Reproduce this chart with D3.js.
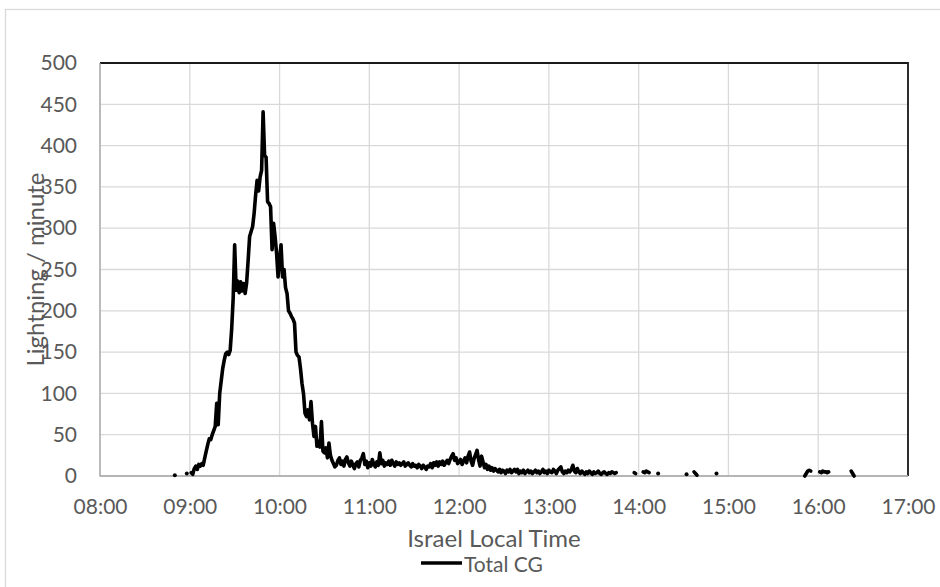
<!DOCTYPE html>
<html>
  <head>
    <meta charset="utf-8">
    <script type="text/javascript" src="https://cdn.jsdelivr.net/npm/d3@7"></script>
    <style>
      body { margin: 0; background: #fff; }
      text { font-family: Lato, "Open Sans", sans-serif; }
    </style>
  </head>
  <body>
    <script type="text/javascript">

// lightning counts per minute, split where the record has gaps
var segmentStart = ["08:50", "08:58", "09:01", "13:57", "14:03", "14:13",
                    "14:32", "14:37", "14:52", "15:51", "16:01", "16:22"];

var mainCounts = [
  4, 2, 9, 12, 8, 14, 12, 15, 13, 22, 30, 38, 45, 44, 50, 55, 60, 88, 62, 100,
  115, 130, 140, 148, 150, 147, 152, 178, 215, 280, 225, 236, 222, 235, 224, 233, 221, 234, 261, 290,
  296, 302, 318, 340, 358, 345, 362, 370, 441, 388, 386, 332, 330, 326, 274, 306, 290, 270, 241, 262,
  280, 241, 250, 228, 221, 200, 197, 193, 190, 185, 150, 146, 144, 130, 112, 100, 76, 72, 80, 68,
  90, 64, 48, 60, 36, 42, 35, 66, 30, 28, 34, 22, 40, 25, 19, 15, 11, 13, 19, 22,
  14, 18, 12, 20, 23, 16, 12, 18, 13, 9, 15, 17, 11, 19, 22, 27, 14, 18, 10, 16,
  12, 20, 14, 11, 17, 13, 28, 15, 19, 12, 16, 14, 18, 13, 19, 15, 12, 17, 14, 16,
  13, 15, 17, 12, 14, 16, 13, 11, 15, 12, 13, 10, 14, 12, 9, 13, 11, 8, 12, 11,
  15, 10, 16, 13, 17, 12, 17, 14, 18, 13, 16, 19, 15, 20, 24, 27, 19, 22, 15, 17,
  20, 14, 18, 22, 16, 24, 29, 18, 13, 21, 26, 31, 20, 12, 24, 17, 10, 14, 8, 12,
  7, 10, 6, 9, 7, 5, 8, 4, 7, 6, 3, 7, 5, 8, 4, 6, 8, 5, 8, 3,
  6, 4, 7, 3, 5, 7, 4, 6, 3, 5, 7, 4, 6, 3, 5, 8, 4, 6, 3, 7,
  5, 4, 8, 6, 3, 7, 9, 11, 5, 3, 6, 4, 7, 5, 8, 13, 6, 4, 9, 5,
  3, 6, 4, 2, 5, 3, 6, 4, 2, 5, 3, 4, 6, 3, 2, 4, 5, 3, 2, 4,
  3, 5, 4, 3, 4
];

var segmentCounts = [
  [1],
  [3],
  mainCounts,
  [4, 3],
  [5, 4, 6, 5, 4],
  [3],
  [2],
  [5, 3, 1],
  [3],
  [0, 3, 6, 7, 6],
  [5, 4, 6, 5, 5, 4, 5],
  [6, 3, 0]
];

var yTicks = [0, 50, 100, 150, 200, 250, 300, 350, 400, 450, 500];
var xTickLabels = ["08:00", "09:00", "10:00", "11:00", "12:00", "13:00",
                   "14:00", "15:00", "16:00", "17:00"];

var w = 940;
var h = 587;
var plotLeft = 100, plotRight = 908, plotTop = 63, plotBottom = 476;
var grey = "#595959";

var parse = d3.timeParse("%H:%M");

var x = d3.scaleTime()
    .domain([parse("08:00"), parse("17:00")])
    .range([plotLeft, plotRight]);

var y = d3.scaleLinear()
    .domain([0, 500])
    .range([plotBottom, plotTop]);

var svg =
  d3.select("body")
    .append("svg")
    .attr("width", w)
    .attr("height", h);

svg.append("rect")
    .attr("x", 5.5).attr("y", 9.5)
    .attr("width", w).attr("height", h)
    .style("fill", "#fff")
    .style("stroke", "#d9d9d9")
    .style("stroke-width", 1.3);

// gridlines
svg.append("g")
  .selectAll("line")
  .data(yTicks)
  .enter()
  .append("line")
    .attr("x1", plotLeft).attr("x2", plotRight)
    .attr("y1", function(d) { return y(d); })
    .attr("y2", function(d) { return y(d); })
    .style("stroke", "#d9d9d9")
    .style("stroke-width", 1.3);

svg.append("g")
  .selectAll("line")
  .data(xTickLabels)
  .enter()
  .append("line")
    .attr("x1", function(d) { return x(parse(d)); })
    .attr("x2", function(d) { return x(parse(d)); })
    .attr("y1", plotTop).attr("y2", plotBottom)
    .style("stroke", "#d9d9d9")
    .style("stroke-width", 1.3);

// plot border: dark top and right, grey axes left and bottom
svg.append("path")
    .attr("d", "M" + plotLeft + "," + plotTop + "H" + plotRight + "V" + plotBottom)
    .style("fill", "none")
    .style("stroke", "#1a1a1a")
    .style("stroke-width", 1.8);

svg.append("path")
    .attr("d", "M" + plotLeft + "," + plotTop + "V" + plotBottom + "H" + plotRight)
    .style("fill", "none")
    .style("stroke", "#a6a6a6")
    .style("stroke-width", 1.3);

// axes
var yAxis = svg.append("g")
    .attr("transform", "translate(" + plotLeft + ",0)")
    .call(d3.axisLeft(y).tickValues(yTicks).tickSize(0).tickPadding(23));

var xAxis = svg.append("g")
    .attr("transform", "translate(0," + plotBottom + ")")
    .call(d3.axisBottom(x)
      .tickValues(xTickLabels.map(parse))
      .tickFormat(d3.timeFormat("%H:%M"))
      .tickSize(0).tickPadding(23));

[yAxis, xAxis].forEach(function(g) {
  g.select(".domain").remove();
  g.selectAll("text")
    .style("font-family", "Lato, sans-serif")
    .style("font-size", "21px")
    .style("fill", grey);
});

// series
var segments = segmentStart.map(function(s, i) {
  var t0 = parse(s);
  return segmentCounts[i].map(function(v, j) {
    return { t: d3.timeMinute.offset(t0, j), v: v };
  });
});

var line = d3.line()
    .x(function(d) { return x(d.t); })
    .y(function(d) { return y(d.v); });

svg.append("g")
  .selectAll("path")
  .data(segments.filter(function(s) { return s.length > 1; }))
  .enter()
  .append("path")
    .attr("d", line)
    .style("fill", "none")
    .style("stroke", "#000")
    .style("stroke-width", 3.6)
    .style("stroke-linejoin", "round")
    .style("stroke-linecap", "round");

svg.append("g")
  .selectAll("circle")
  .data(segments.filter(function(s) { return s.length == 1; }))
  .enter()
  .append("circle")
    .attr("cx", function(s) { return x(s[0].t); })
    .attr("cy", function(s) { return y(s[0].v); })
    .attr("r", 2)
    .style("fill", "#000");

// titles
svg.append("text")
    .attr("transform", "translate(34," + ((plotTop + plotBottom) / 2) + ") rotate(-90)")
    .attr("text-anchor", "middle")
    .attr("dominant-baseline", "central")
    .style("font-size", "24px")
    .style("fill", grey)
    .text("Lightning / minute");

svg.append("text")
    .attr("x", 494).attr("y", 537)
    .attr("text-anchor", "middle")
    .attr("dominant-baseline", "central")
    .style("font-size", "24px")
    .style("fill", grey)
    .text("Israel Local Time");

// legend
svg.append("line")
    .attr("x1", 421).attr("x2", 462)
    .attr("y1", 563).attr("y2", 563)
    .style("stroke", "#000")
    .style("stroke-width", 3.6);

svg.append("text")
    .attr("x", 464).attr("y", 563)
    .attr("dominant-baseline", "central")
    .style("font-size", "21px")
    .style("fill", grey)
    .text("Total CG");

    </script>
  </body>
</html>
